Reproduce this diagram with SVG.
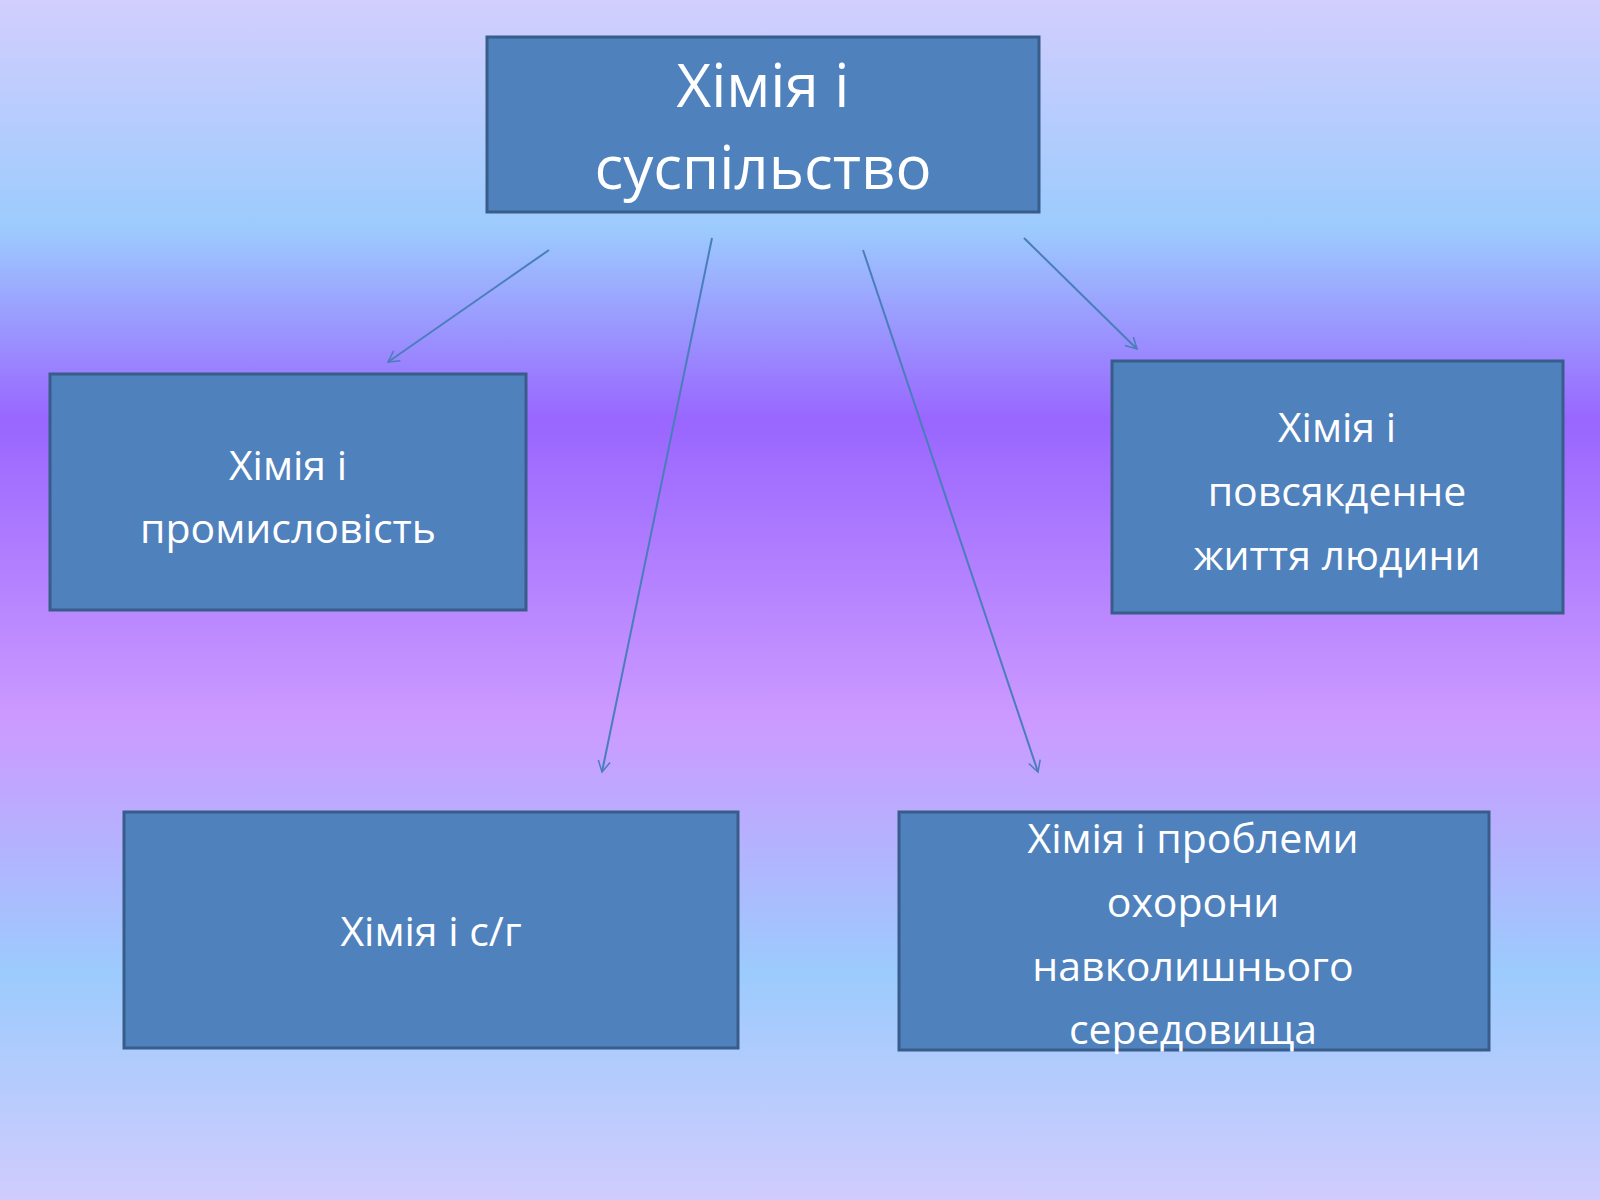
<svg xmlns="http://www.w3.org/2000/svg" width="1600" height="1200" viewBox="0 0 1600 1200">
<defs>
<linearGradient id="bg" x1="0" y1="0" x2="0" y2="1">
<stop offset="0" stop-color="#d2cefd"/>
<stop offset="0.19" stop-color="#9ccbfd"/>
<stop offset="0.35" stop-color="#9966ff"/>
<stop offset="0.6" stop-color="#cc9aff"/>
<stop offset="0.81" stop-color="#9ccbfd"/>
<stop offset="1" stop-color="#d0ccfd"/>
</linearGradient>
<marker id="ah" markerWidth="14" markerHeight="14" refX="12" refY="7" orient="auto" markerUnits="userSpaceOnUse">
<path d="M1,1 L12,7 L1,13" fill="none" stroke="#4a7ebb" stroke-width="1.5"/>
</marker>
<style>
.box{fill:#4f81bd;stroke:#385d8a;stroke-width:3}
.t{fill:#fff;font-family:"Open Sans","Noto Sans",sans-serif;text-anchor:middle;font-size:41px}
.c{stroke:#4a7ebb;stroke-width:2;fill:none;marker-end:url(#ah)}
</style>
</defs>
<rect width="1600" height="1200" fill="url(#bg)"/>
<g id="connectors">
<line class="c" x1="549" y1="250" x2="388" y2="362"/>
<line class="c" x1="712" y1="238" x2="602" y2="772"/>
<line class="c" x1="863" y1="250" x2="1038" y2="772"/>
<line class="c" x1="1024" y1="238" x2="1137" y2="349"/>
</g>
<g id="top"><rect class="box" x="487" y="37" width="552" height="175"/>
<text class="t" style="font-size:60px" x="763" y="107">Хімія і</text>
<text class="t" style="font-size:60px" x="763" y="189">суспільство</text></g>
<g id="industry"><rect class="box" x="50" y="374" width="476" height="236"/>
<text class="t" x="288" y="480">Хімія і</text>
<text class="t" x="288" y="543">промисловість</text></g>
<g id="daily"><rect class="box" x="1112" y="361" width="451" height="252"/>
<text class="t" x="1337" y="442">Хімія і</text>
<text class="t" x="1337" y="506">повсякденне</text>
<text class="t" x="1337" y="570">життя людини</text></g>
<g id="agri"><rect class="box" x="124" y="812" width="614" height="236"/>
<text class="t" x="431" y="946">Хімія і с/г</text></g>
<g id="env"><rect class="box" x="899" y="812" width="590" height="238"/>
<text class="t" x="1193" y="853">Хімія і проблеми</text>
<text class="t" x="1193" y="917">охорони</text>
<text class="t" x="1193" y="981">навколишнього</text>
<text class="t" x="1193" y="1044">середовища</text></g>
</svg>
